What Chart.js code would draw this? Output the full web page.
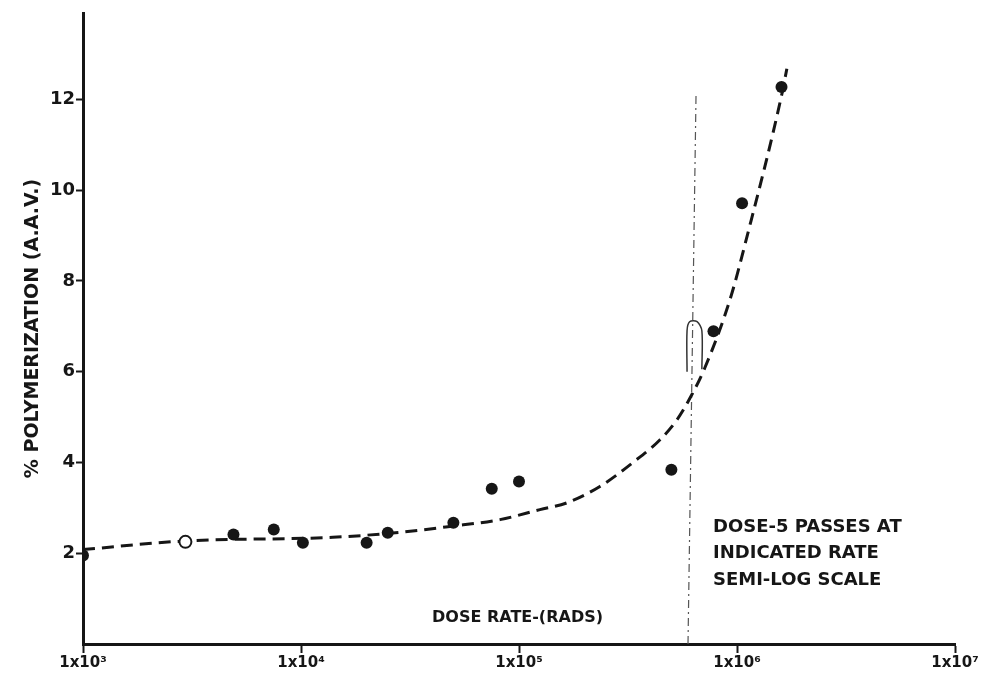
<!DOCTYPE html>
<html>
<head>
<meta charset="utf-8">
<script src="https://cdn.jsdelivr.net/npm/chart.js@4.4.0/dist/chart.umd.min.js"></script>
<style>
  body { margin: 0; background: #fff; }
  #wrap { width: 987px; height: 685px; }
</style>
</head>
<body>
<div id="wrap"><canvas id="polyChart" width="987" height="685"></canvas></div>
<script>
// measured points: dose rate (rads) vs % polymerization (A.A.V.)
const doseRates = [1000, 2950, 4900, 7500, 10200, 20000, 25000, 50000, 75000, 100000, 500000, 780000, 1055000, 1600000];
const polymerization = [1.95, 2.25, 2.41, 2.52, 2.23, 2.23, 2.45, 2.67, 3.42, 3.58, 3.84, 6.89, 9.71, 12.27];
const openPoint = [false, true, false, false, false, false, false, false, false, false, false, false, false, false];

// dashed fitted curve
const curveX = [1000, 2940, 14000, 28400, 48200, 81800, 124800, 166000, 235000, 333500, 443500, 530500, 622000, 713000, 929000, 1112000, 1607000, 1693000];
const curveY = [2.08, 2.27, 2.35, 2.46, 2.59, 2.74, 2.96, 3.11, 3.47, 4.0, 4.5, 4.94, 5.5, 6.09, 7.59, 8.98, 12.12, 12.67];

// thin vertical reference line and the small bracket on it
const refLineX = [596000, 649000];
const refLineY = [0, 12.16];
const bracketX = [590000, 590000, 606000, 656000, 690000, 690000];
const bracketY = [6.0, 6.9, 7.1, 7.1, 6.9, 6.05];

// axes
const xTicks = [1e3, 1e4, 1e5, 1e6, 1e7];
const xTickLabels = ["1x10³", "1x10⁴", "1x10⁵", "1x10⁶", "1x10⁷"];
const yTicks = [2, 4, 6, 8, 10, 12];

const ink = "#161616";
const fontFamily = "'DejaVu Sans', sans-serif";

// free text on the plot (placed in data units)
const notes = [
    { text: "DOSE RATE-(RADS)", x: 39900, y: 0.58, size: 16 },
    { text: "DOSE-5 PASSES AT", x: 776000, y: 2.58, size: 18 },
    { text: "INDICATED RATE", x: 776000, y: 1.99, size: 18 },
    { text: "SEMI-LOG SCALE", x: 776000, y: 1.40, size: 18 }
];

function toPairs(xs, ys) {
    return xs.map((x, i) => ({ x: x, y: ys[i] }));
}

const notesPlugin = {
    id: "notes",
    afterDraw(chart) {
        const ctx = chart.ctx;
        const xs = chart.scales.x;
        const ys = chart.scales.y;
        ctx.save();
        ctx.fillStyle = ink;
        ctx.textBaseline = "middle";
        ctx.textAlign = "left";
        notes.forEach(n => {
            ctx.font = "bold " + n.size + "px " + fontFamily;
            ctx.fillText(n.text, xs.getPixelForValue(n.x), ys.getPixelForValue(n.y));
        });
        ctx.restore();
    }
};

const ctx = document.getElementById("polyChart").getContext("2d");
new Chart(ctx, {
    type: "scatter",
    data: {
        datasets: [
            {
                label: "measured",
                data: toPairs(doseRates, polymerization),
                pointRadius: 6,
                pointBackgroundColor: openPoint.map(o => o ? "#fff" : ink),
                pointBorderColor: ink,
                pointBorderWidth: openPoint.map(o => o ? 2 : 0),
                showLine: false
            },
            {
                label: "curve",
                data: toPairs(curveX, curveY),
                showLine: true,
                borderColor: ink,
                borderWidth: 3,
                borderDash: [12, 7],
                pointRadius: 0,
                cubicInterpolationMode: "monotone",
                clip: false
            },
            {
                label: "bracket",
                data: toPairs(bracketX, bracketY),
                showLine: true,
                borderColor: "#333",
                borderWidth: 1.5,
                pointRadius: 0,
                tension: 0.3
            },
            {
                label: "reference",
                data: toPairs(refLineX, refLineY),
                showLine: true,
                borderColor: "#555",
                borderWidth: 1.2,
                borderDash: [8, 4, 2, 4],
                pointRadius: 0
            }
        ]
    },
    options: {
        responsive: false,
        animation: false,
        layout: { padding: { top: 13, right: 32, left: 0, bottom: 0 } },
        plugins: {
            legend: { display: false },
            tooltip: { enabled: false }
        },
        scales: {
            x: {
                type: "logarithmic",
                position: "bottom",
                min: 1e3,
                max: 1e7,
                afterFit: s => { s.height = 41; },
                afterBuildTicks: s => { s.ticks = xTicks.map(v => ({ value: v })); },
                ticks: {
                    autoSkip: false,
                    maxRotation: 0,
                    padding: 1,
                    color: ink,
                    font: { family: fontFamily, size: 15, weight: "bold" },
                    callback: (v, i) => xTickLabels[i]
                },
                grid: {
                    drawOnChartArea: false,
                    drawTicks: true,
                    tickLength: 9,
                    tickWidth: 2,
                    tickColor: ink
                },
                border: { display: true, color: ink, width: 3 }
            },
            y: {
                min: 0,
                max: 13.9,
                afterFit: s => { s.width = 83; },
                afterBuildTicks: s => { s.ticks = yTicks.map(v => ({ value: v })); },
                ticks: {
                    padding: 1,
                    color: ink,
                    font: { family: fontFamily, size: 18, weight: "bold" }
                },
                grid: {
                    drawOnChartArea: false,
                    drawTicks: true,
                    tickLength: 7,
                    tickWidth: 2,
                    tickColor: ink
                },
                border: { display: true, color: ink, width: 3 },
                title: {
                    display: true,
                    text: "% POLYMERIZATION (A.A.V.)",
                    color: ink,
                    font: { family: fontFamily, size: 19, weight: "bold" },
                    padding: { top: 22, bottom: 0 }
                }
            }
        }
    },
    plugins: [notesPlugin]
});
</script>
</body>
</html>
